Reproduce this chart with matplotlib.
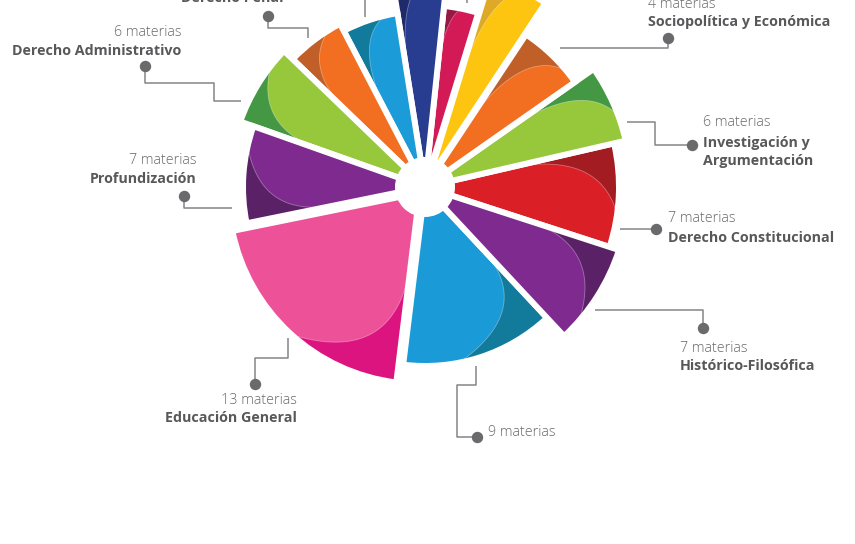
import numpy as np
import matplotlib.pyplot as plt
from matplotlib.patches import Wedge, Polygon, Circle

plt.rcParams['font.family'] = ['Open Sans', 'DejaVu Sans']

# datos: porciones en sentido antihorario, empezando por Derecho Constitucional
nombres = ['Derecho Constitucional', 'Investigación y\nArgumentación', 'Sociopolítica y Económica',
           '', '', '', '', 'Derecho Penal', 'Derecho Administrativo', 'Profundización',
           'Educación General', '', 'Histórico-Filosófica']
materias = [7, 6, 4, None, None, None, None, None, 6, 7, 13, 9, 7]
porcion = [31, 22, 21.5, 16.5, 11, 15, 18.5, 18.5, 24.5, 31, 71.5, 50, 29]  # grados
radio = [194, 206, 183, 212, 182, 205, 176, 184, 196, 182, 191, 179, 204]

# colores (claro, oscuro)
claro = ['#DA1F26', '#97C83C', '#F26E21', '#FDC50F', '#D31A56', '#283D8F', '#1B9BD7',
         '#F26E21', '#97C83C', '#7E2A8E', '#ED5299', '#1A9BD7', '#7E2A8E']
oscuro = ['#A31C22', '#449844', '#C05F27', '#DDA927', '#951845', '#1F2A6A', '#127A9B',
          '#C05F27', '#449844', '#5A2167', '#DC1480', '#127A9B', '#5A2167']
# forma de la zona oscura: fraccion del arco y radio donde la curva toca el borde
corte = [0.68, 0.66, 0.79, 0.62, 0.5, 0.55, 0.78, 0.77, 0.76, 0.79, 0.49, 0.64, 0.79]
radio_c = [0.39, 0.45, 0.33, 0.4, 0.58, 0.45, 0.4, 0.57, 0.56, 0.48, 0.34, 0.45, 0.52]
desplaz = [0, 0, 0, 8, 0, 0, 0, 0, 0, 0, 8, 0, 0]

W, H = 855, 544
cx, cy = 425, H - 187
inicio = -18


def Y(y):
    return H - y


def pol(c, r, t):
    t = np.radians(t)
    return np.array([c[0] + r * np.cos(t), c[1] + r * np.sin(t)])


fig = plt.figure(figsize=(W / 100, H / 100), dpi=100)
ax = fig.add_axes([0, 0, 1, 1])
ax.set_xlim(0, W)
ax.set_ylim(0, H)
ax.axis('off')

bordes = inicio + np.concatenate([[0], np.cumsum(porcion)])
for i in range(len(porcion)):
    t1, t2 = bordes[i], bordes[i + 1]
    R = radio[i]
    mid = np.radians((t1 + t2) / 2)
    c = (cx + desplaz[i] * np.cos(mid), cy + desplaz[i] * np.sin(mid))
    ax.add_patch(Wedge(c, R, t1, t2, facecolor=oscuro[i], edgecolor='none'))

    # zona clara: borde bajo, arco hasta tc, curva hasta el borde alto
    tc = t2 - corte[i] * (t2 - t1)
    arco = np.linspace(t1, tc, 40)
    pts = [np.array(c)] + [pol(c, R, a) for a in arco]
    A = pol(c, R, tc)
    C = pol(c, 0.92 * R, t2)
    B = pol(c, radio_c[i] * R, t2)
    s = np.linspace(0, 1, 40)[:, None]
    curva = (1 - s) ** 2 * A + 2 * (1 - s) * s * C + s ** 2 * B
    pts += list(curva)
    ax.add_patch(Polygon(np.array(pts), closed=True, facecolor=claro[i], edgecolor='none'))
    ax.plot(curva[:, 0], curva[:, 1], color='white', lw=0.6, alpha=0.35)

    ax.add_patch(Wedge(c, R, t1, t2, facecolor='none', edgecolor='white', lw=4.3))

ax.add_patch(Circle((cx, cy), 30, facecolor='white', edgecolor='none', zorder=3))

# guias de las etiquetas (coordenadas de imagen)
guias = [
    ([(620, 229), (656, 229)], True),
    ([(627, 122), (655, 122), (655, 145), (692, 145)], True),
    ([(560, 48), (668, 48), (668, 38)], True),
    ([(308, 38), (308, 28), (268, 28), (268, 16)], True),
    ([(241, 101), (214, 101), (214, 83), (145, 83), (145, 66)], True),
    ([(232, 208), (184, 208), (184, 196)], True),
    ([(288, 338), (288, 358), (255, 358), (255, 384)], True),
    ([(476, 366), (476, 385), (457, 385), (457, 437), (477, 437)], True),
    ([(595, 310), (703, 310), (703, 328)], True),
    ([(365, 17), (365, -10)], False),
    ([(467, 3), (467, -10)], False),
]
for pts, punto in guias:
    xs = [p[0] for p in pts]
    ys = [Y(p[1]) for p in pts]
    ax.plot(xs, ys, color='#858588', lw=1.1, clip_on=False, solid_capstyle='butt')
    if punto:
        ax.plot(xs[-1], ys[-1], 'o', color='#6A6A6D', ms=7.2, clip_on=False)

# textos: (indice, x, y materias, y nombre, alineacion)
textos = [
    (0, 668, 219, 238, 'left'),
    (1, 703, 123, 152, 'left'),
    (2, 648, 4, 22, 'left'),
    (7, 283, -20, -2, 'right'),
    (8, 181, 33, 51, 'right'),
    (9, 196, 161, 179, 'right'),
    (10, 297, 400, 418, 'right'),
    (11, 488, 432, None, 'left'),
    (12, 680, 348, 366, 'left'),
]
for i, x, ym, yn, ha in textos:
    if materias[i] is not None:
        ax.text(x, Y(ym), f'{materias[i]} materias', ha=ha, va='center', fontsize=10.3,
                fontweight='light', color='#68686B', clip_on=False)
    if yn is not None and nombres[i]:
        ax.text(x, Y(yn), nombres[i], ha=ha, va='center', fontsize=10.3, fontweight='bold',
                color='#58585B', linespacing=1.3, clip_on=False)

fig.savefig('out.png', dpi=100)
